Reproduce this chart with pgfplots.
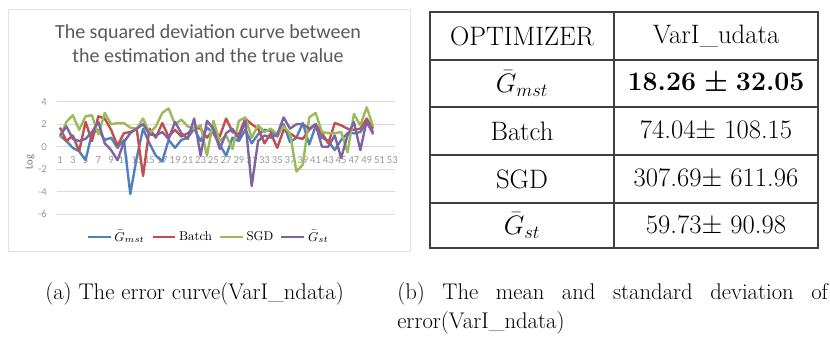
\RequirePackage{fix-cm}
\documentclass[border=0pt]{standalone}
\usepackage{bm}
\usepackage{fontspec}
\usepackage{pgfplots}
\pgfplotsset{compat=1.18}
\usepackage{pgfplotstable}
\newfontfamily\carlito{Carlito}
\definecolor{xblue}{HTML}{4F81BD}
\definecolor{xred}{HTML}{C0504D}
\definecolor{xgreen}{HTML}{9BBB59}
\definecolor{xpurple}{HTML}{8064A2}
\definecolor{titlegray}{HTML}{595959}
\definecolor{lblgray}{HTML}{999999}
\definecolor{gridgray}{HTML}{D9D9D9}
\definecolor{framegray}{HTML}{E3E3E3}
\definecolor{tabline}{HTML}{404040}

\pgfplotstableread{
x g b s t
1 1.0 1.7 0.8 1.0
2 0.5 0.5 2.2 1.8
3 -0.1 1.0 2.8 0.7
4 -0.4 -0.4 1.5 0.5
5 -1.2 2.2 2.7 0.7
6 1.2 0.5 2.8 1.3
7 1.5 2.7 1.1 2.2
8 0.6 2.5 3.0 0.3
9 0.8 1.5 2.0 -0.3
10 -0.1 0.1 2.1 -1.2
11 0.6 1.2 2.1 0.4
12 -4.2 1.3 1.7 1.2
13 -1.0 1.6 1.6 1.6
14 1.6 -2.6 2.5 2.0
15 0.3 1.6 1.2 1.1
16 -0.8 0.8 1.8 1.0
17 -1.3 2.1 3.0 1.3
18 0.6 0.9 3.4 0.7
19 -0.1 1.5 2.0 2.2
20 0.6 0.9 2.4 1.2
21 0.8 1.2 1.8 0.7
22 1.6 1.7 1.6 2.5
23 0.5 1.6 1.9 -0.8
24 1.7 0.8 -0.8 2.3
25 1.2 1.5 2.3 1.6
26 0.2 0.9 0.5 -0.2
27 -0.8 2.5 1.0 1.2
28 0.8 1.3 -0.2 1.6
29 0.5 1.1 2.3 0.7
30 1.5 2.5 2.6 2.3
31 0.3 2.0 0.8 -3.5
32 1.1 1.6 1.9 0.5
33 1.5 0.3 1.3 1.0
34 1.4 1.2 1.6 0.8
35 0.9 -0.1 1.1 1.1
36 2.0 1.5 1.8 2.6
37 0.4 1.2 1.2 1.6
38 0.8 0.8 -2.2 2.0
39 2.1 0.7 -1.6 2.0
40 0.2 1.5 2.6 1.6
41 1.8 2.0 3.0 2.0
42 0.8 1.2 1.3 0.0
43 0.5 0.3 1.2 0.0
44 -0.3 2.1 1.2 1.0
45 0.6 1.9 1.3 -1.0
46 1.2 1.6 -0.5 1.0
47 1.2 1.5 2.9 2.2
48 1.3 1.6 1.9 -0.3
49 2.1 2.5 3.5 2.3
50 1.3 1.6 1.8 1.1
}\data

\begin{document}
\begin{tikzpicture}
\begin{scope}[x=0.75pt,y=-0.75pt]
  \path (0,0) rectangle (830,341);
  % chart frame
  \draw[framegray, line width=0.75pt] (8,10) rectangle (410,252);
  % title
  \node[align=center, text=titlegray, font=\carlito\fontsize{15}{17.5}\selectfont] at (208,43.5)
    {The squared deviation curve between\\the estimation and the true value};
  % y label
  \node[rotate=90, text=lblgray!80!black, font=\carlito\fontsize{8}{9}\selectfont] at (30,162) {Log};
  % table
  \begin{scope}[tabline, line width=0.9pt]
    \draw (430,12) rectangle (818,248);
    \draw (614,12) -- (614,248);
    \foreach \yy in {60,107,155,203} \draw (430,\yy) -- (818,\yy);
  \end{scope}
  \begin{scope}[every node/.style={font=\fontsize{20}{23}\selectfont, inner sep=0pt}]
    \node at (522,36) {OPTIMIZER};
    \node at (716,36) {VarI\_udata};
    \node at (522,83.5) {$\bar{G}_{mst}$};
    \node at (716,83.5) {\textbf{18.26} $\bm{\pm}$ \textbf{32.05}};
    \node at (522,131) {Batch};
    \node at (716,131) {74.04$\pm$ 108.15};
    \node at (522,179) {SGD};
    \node at (716,179) {307.69$\pm$ 611.96};
    \node at (522,225.5) {$\bar{G}_{st}$};
    \node at (716,225.5) {59.73$\pm$ 90.98};
  \end{scope}
  % captions
  \begin{scope}[every node/.style={font=\fontsize{17}{20}\selectfont, inner sep=0pt, anchor=base west}]
    \node at (45,300) {(a) The error curve(VarI\_ndata)};
    \node at (397,300) {\makebox[323pt][s]{(b) The mean and standard deviation of}};
    \node at (397,329) {error(VarI\_ndata)};
  \end{scope}
\end{scope}
\begin{axis}[
  at={(42.6pt,-160.7pt)}, anchor=south west,
  scale only axis, width=254pt, height=84.45pt,
  xmin=0.5, xmax=53.5, ymin=-6, ymax=4,
  axis x line=middle, axis y line=left,
  axis line style={draw=none},
  major tick length=0pt,
  xtick={1,3,...,53}, ytick={-6,-4,...,4},
  ymajorgrids, grid style={gridgray, line width=0.75pt},
  /pgf/number format/assume math mode=true,
  tick label style={font=\carlito\fontsize{8}{9}\selectfont, text=lblgray},
  xticklabel style={yshift=-4pt},
  yticklabel style={xshift=-4pt},
  clip=false,
  legend style={at={(0.449,-0.2)}, anchor=center, draw=none, fill=none,
     legend columns=4, font=\fontsize{9.6}{11}\selectfont,
     /tikz/every even column/.append style={column sep=3pt}},
  every axis plot/.append style={line width=1.8pt, line join=round, no marks},
]
\addplot[xblue] table[x=x,y=g] {\data};
\addlegendentry{$\bar{G}_{mst}$}
\addplot[xred] table[x=x,y=b] {\data};
\addlegendentry{Batch}
\addplot[xgreen] table[x=x,y=s] {\data};
\addlegendentry{SGD}
\addplot[xpurple] table[x=x,y=t] {\data};
\addlegendentry{$\bar{G}_{st}$}
\end{axis}
\end{tikzpicture}
\end{document}
